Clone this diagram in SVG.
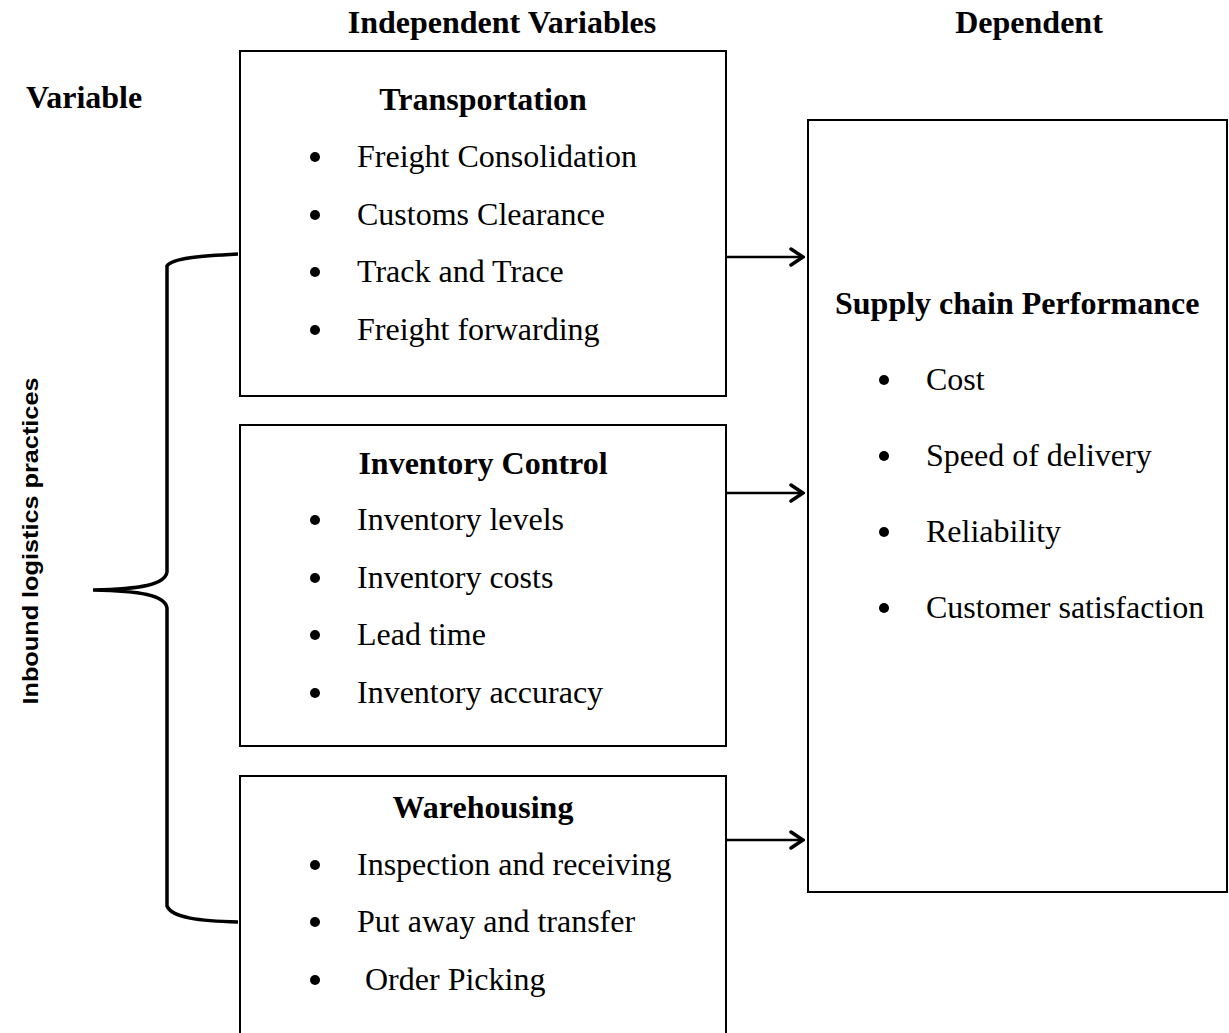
<svg xmlns="http://www.w3.org/2000/svg" width="1229" height="1033" viewBox="0 0 1229 1033">
<style>
.box{fill:#fff;stroke:#000;stroke-width:2}
.t{font-family:"Liberation Serif",serif;font-size:32px;fill:#000}
.b{font-weight:bold}
.c{text-anchor:middle}
.line{fill:none;stroke:#000;stroke-width:2.5}
.brace{fill:none;stroke:#000;stroke-width:3.5}
.dot{fill:#000}
</style>
<defs>
<marker id="arr" markerWidth="16" markerHeight="22" refX="14" refY="11" orient="auto" markerUnits="userSpaceOnUse">
<path d="M2,3 L14,11 L2,19" fill="none" stroke="#000" stroke-width="3.5" stroke-linecap="round" stroke-linejoin="miter"/>
</marker>
</defs>
<rect width="1229" height="1033" fill="#fff"/>
<text class="t b c" x="502" y="33">Independent Variables</text>
<text class="t b c" x="1029" y="33">Dependent</text>
<text class="t b" x="26" y="108">Variable</text>
<text x="30" y="541" transform="rotate(-90 30 541)" text-anchor="middle" dominant-baseline="central" font-family="'Liberation Sans',sans-serif" font-weight="bold" font-size="22" textLength="327" lengthAdjust="spacingAndGlyphs">Inbound logistics practices</text>
<g id="brace">
<path class="brace" d="M238,254 C200,256 172,258 167,266 L167,572 C165,585 140,589 93,590 C140,591 165,595 167,608 L167,906 C172,918 200,921 238,922"/>
</g>
<g id="transportation">
<rect class="box" x="240" y="51" width="486" height="345"/>
<text class="t b c" x="483" y="110">Transportation</text>
<circle class="dot" cx="315" cy="157" r="5"/><text class="t" x="357" y="167">Freight Consolidation</text>
<circle class="dot" cx="315" cy="215" r="5"/><text class="t" x="357" y="225">Customs Clearance</text>
<circle class="dot" cx="315" cy="272" r="5"/><text class="t" x="357" y="282">Track and Trace</text>
<circle class="dot" cx="315" cy="330" r="5"/><text class="t" x="357" y="340">Freight forwarding</text>
</g>
<g id="inventory">
<rect class="box" x="240" y="425" width="486" height="321"/>
<text class="t b c" x="483" y="474">Inventory Control</text>
<circle class="dot" cx="315" cy="520" r="5"/><text class="t" x="357" y="530">Inventory levels</text>
<circle class="dot" cx="315" cy="578" r="5"/><text class="t" x="357" y="588">Inventory costs</text>
<circle class="dot" cx="315" cy="635" r="5"/><text class="t" x="357" y="645">Lead time</text>
<circle class="dot" cx="315" cy="693" r="5"/><text class="t" x="357" y="703">Inventory accuracy</text>
</g>
<g id="warehousing">
<rect class="box" x="240" y="776" width="486" height="300"/>
<text class="t b c" x="483" y="818">Warehousing</text>
<circle class="dot" cx="315" cy="865" r="5"/><text class="t" x="357" y="875">Inspection and receiving</text>
<circle class="dot" cx="315" cy="922" r="5"/><text class="t" x="357" y="932">Put away and transfer</text>
<circle class="dot" cx="315" cy="980" r="5"/><text class="t" x="357" y="990" xml:space="preserve"> Order Picking</text>
</g>
<g id="performance">
<rect class="box" x="808" y="120" width="419" height="772"/>
<text class="t b" x="835" y="314">Supply chain Performance</text>
<circle class="dot" cx="884" cy="380" r="5"/><text class="t" x="926" y="390">Cost</text>
<circle class="dot" cx="884" cy="456" r="5"/><text class="t" x="926" y="466">Speed of delivery</text>
<circle class="dot" cx="884" cy="532" r="5"/><text class="t" x="926" y="542">Reliability</text>
<circle class="dot" cx="884" cy="608" r="5"/><text class="t" x="926" y="618">Customer satisfaction</text>
</g>
<g id="connectors">
<line class="line" x1="727" y1="257" x2="803" y2="257" marker-end="url(#arr)"/>
<line class="line" x1="727" y1="493" x2="803" y2="493" marker-end="url(#arr)"/>
<line class="line" x1="727" y1="840" x2="803" y2="840" marker-end="url(#arr)"/>
</g>
</svg>
